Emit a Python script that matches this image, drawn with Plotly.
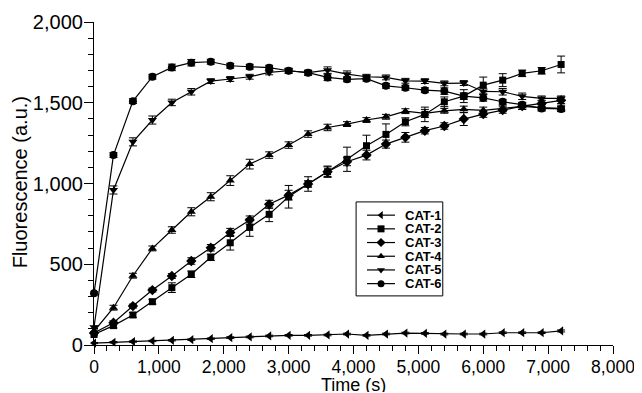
import plotly.graph_objects as go

time_s = [0, 300, 600, 900, 1200, 1500, 1800, 2100, 2400, 2700, 3000, 3300, 3600,
          3900, 4200, 4500, 4800, 5100, 5400, 5700, 6000, 6300, 6600, 6900, 7200]

cat1 = [12, 17, 21, 25, 29, 33, 39, 46, 50, 56, 60, 60, 62, 68, 60, 68, 74, 72, 68, 68, 68, 76, 76, 76, 87]
cat2 = [65, 120, 186, 268, 355, 438, 543, 633, 728, 809, 918, 997, 1073, 1150, 1234, 1304, 1382, 1428,
        1506, 1541, 1609, 1640, 1682, 1698, 1737]
cat3 = [75, 138, 241, 340, 427, 520, 602, 697, 774, 871, 928, 997, 1073, 1135, 1176, 1244, 1286, 1327,
        1356, 1399, 1430, 1455, 1479, 1496, 1515]
cat4 = [85, 231, 429, 598, 712, 825, 918, 1018, 1120, 1176, 1238, 1306, 1347, 1368, 1393, 1413, 1448, 1434,
        1450, 1459, 1453, 1465, 1478, 1470, 1465]
cat5 = [110, 960, 1258, 1393, 1502, 1568, 1634, 1647, 1661, 1688, 1698, 1686, 1702, 1677, 1661, 1657, 1636,
        1634, 1620, 1622, 1570, 1568, 1540, 1527, 1527]
cat6 = [320, 1176, 1510, 1661, 1719, 1748, 1754, 1729, 1723, 1717, 1698, 1686, 1657, 1645, 1649, 1605, 1593,
        1578, 1572, 1541, 1530, 1506, 1488, 1465, 1462]

err1 = [4, 4, 4, 4, 4, 4, 4, 5, 5, 5, 5, 5, 5, 5, 5, 5, 5, 5, 5, 5, 5, 5, 5, 5, 6]
err2 = [8, 15, 15, 15, 30, 20, 20, 45, 55, 45, 70, 45, 35, 75, 65, 65, 25, 45, 30, 40, 50, 40, 20, 20, 52]
err3 = [8, 12, 12, 12, 15, 20, 20, 25, 25, 25, 30, 20, 30, 25, 30, 25, 30, 20, 20, 40, 20, 20, 20, 20, 20]
err4 = [8, 15, 15, 15, 20, 25, 25, 30, 30, 20, 20, 20, 20, 15, 15, 15, 15, 25, 15, 20, 20, 20, 20, 20, 20]
err5 = [8, 25, 25, 25, 20, 20, 15, 15, 15, 15, 15, 15, 20, 20, 15, 15, 15, 15, 15, 15, 20, 20, 20, 15, 15]
err6 = [10, 15, 15, 15, 20, 20, 15, 15, 15, 15, 15, 15, 20, 15, 15, 15, 15, 15, 20, 20, 20, 15, 15, 15, 15]

names = ["CAT-1", "CAT-2", "CAT-3", "CAT-4", "CAT-5", "CAT-6"]
series = [cat1, cat2, cat3, cat4, cat5, cat6]
errors = [err1, err2, err3, err4, err5, err6]
symbols = ["triangle-left", "square", "diamond", "triangle-up", "triangle-down", "circle"]
sizes = [8, 7, 8, 8, 8, 8]

fig = go.Figure()
for name, ys, es, sym, sz in zip(names, series, errors, symbols, sizes):
    fig.add_trace(go.Scatter(
        x=time_s, y=ys, name=name, mode="lines+markers",
        line=dict(color="black", width=1.2),
        marker=dict(symbol=sym, size=sz, color="black"),
        error_y=dict(type="data", array=es, visible=True, color="black", thickness=1, width=4),
        cliponaxis=False, showlegend=False,
    ))

# Custom compact legend (drawn on an invisible overlay axis in paper-like units)
leg_x0, leg_x1 = 0.505, 0.672
leg_y0, leg_y1 = 0.152, 0.443
row_top, row_step = 0.402, 0.0424
samp_x0, samp_x1, samp_xm = 0.526, 0.580, 0.553
text_x = 0.597

annotations = []
for i, (name, sym) in enumerate(zip(names, symbols)):
    ry = row_top - i * row_step
    fig.add_trace(go.Scatter(
        x=[samp_x0, samp_x1], y=[ry, ry], mode="lines",
        line=dict(color="black", width=1.2), xaxis="x2", yaxis="y2",
        showlegend=False, hoverinfo="skip", cliponaxis=False,
    ))
    fig.add_trace(go.Scatter(
        x=[samp_xm], y=[ry], mode="markers",
        marker=dict(symbol=sym, size=7, color="black"), xaxis="x2", yaxis="y2",
        showlegend=False, hoverinfo="skip", cliponaxis=False,
    ))
    annotations.append(dict(
        x=text_x, y=ry, xref="paper", yref="paper", text="<b>%s</b>" % name,
        showarrow=False, xanchor="left", yanchor="middle", height=11, valign="middle",
        borderpad=0,
        font=dict(size=13, family="Liberation Sans, Arial, sans-serif", color="black"),
    ))

annotations.append(dict(
    x=0.5, y=-0.122, xref="paper", yref="paper", text="Time (s)",
    showarrow=False, xanchor="center", yanchor="middle", height=15, valign="middle",
    borderpad=0,
    font=dict(size=18, family="Liberation Sans, Arial, sans-serif", color="black"),
))
annotations.append(dict(
    x=-0.143, y=0.503, xref="paper", yref="paper", text="Fluorescence (a.u.)",
    showarrow=False, xanchor="center", yanchor="middle", textangle=-90,
    font=dict(size=20, family="Liberation Sans, Arial, sans-serif", color="black"),
))

font_family = "Liberation Sans, Arial, sans-serif"
# the page body adds an 8px offset, so the figure is 8px smaller and margins shifted
fig.update_layout(
    width=634, height=385,
    margin=dict(l=86, r=29, t=14, b=48),
    paper_bgcolor="white", plot_bgcolor="white",
    font=dict(family=font_family, color="black"),
    showlegend=False,
    shapes=[dict(type="rect", xref="paper", yref="paper",
                 x0=leg_x0, x1=leg_x1, y0=leg_y0, y1=leg_y1,
                 line=dict(color="black", width=1), fillcolor="white", layer="below")],
    annotations=annotations,
    xaxis=dict(
        range=[0, 8000], dtick=1000, tickformat=",d", automargin=False,
        showgrid=False, zeroline=False,
        showline=True, linecolor="black", linewidth=1.2,
        ticks="outside", ticklen=8, tickwidth=1.2, tickcolor="black",
        tickfont=dict(size=17.5), ticklabelstandoff=-2,
        minor=dict(dtick=200, ticks="outside", ticklen=5, tickwidth=1, tickcolor="black"),
    ),
    yaxis=dict(
        range=[0, 2000], dtick=500, tickformat=",d", automargin=False,
        showgrid=False, zeroline=False,
        showline=True, linecolor="black", linewidth=1.2,
        ticks="outside", ticklen=9, tickwidth=1.2, tickcolor="black",
        tickfont=dict(size=20), ticklabelstandoff=-3,
        minor=dict(dtick=100, ticks="outside", ticklen=5, tickwidth=1, tickcolor="black"),
    ),
    xaxis2=dict(range=[0, 1], overlaying="x", visible=False, domain=[0, 1], anchor="y2"),
    yaxis2=dict(range=[0, 1], overlaying="y", visible=False, domain=[0, 1], anchor="x2"),
)

fig.write_html("out.html")
